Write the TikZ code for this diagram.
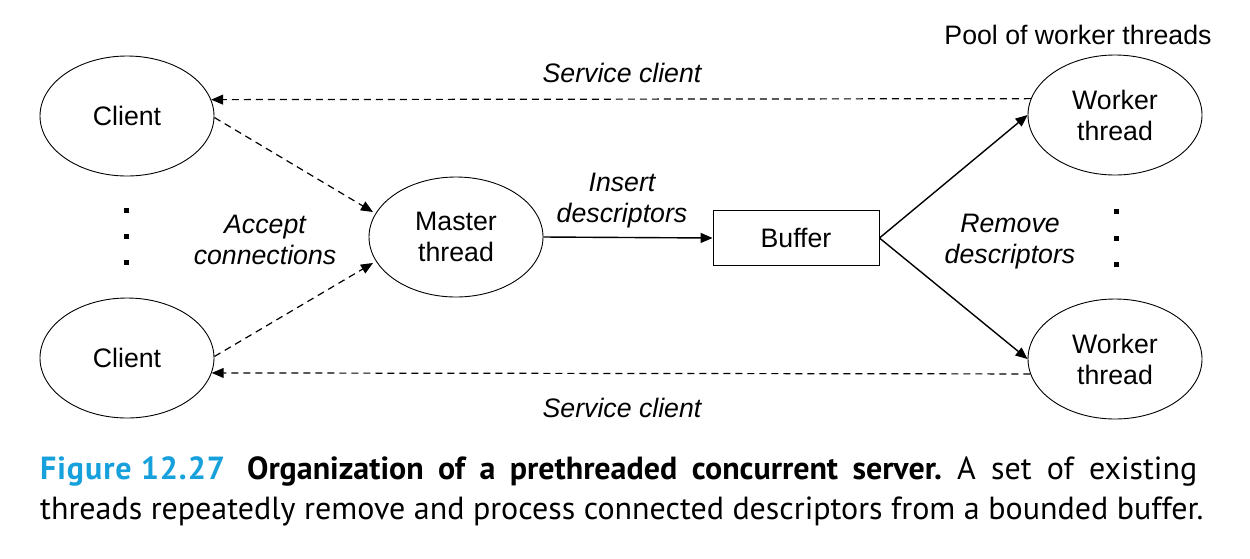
\documentclass[tikz,border=0pt]{standalone}
\usepackage{fontspec}
\setmainfont{Liberation Sans}
\newfontfamily\capfont{PT Sans}
\usetikzlibrary{shapes.geometric,arrows.meta}
\definecolor{figblue}{RGB}{22,160,220}
\tikzset{
  lab/.style={font=\fontsize{26.7pt}{31pt}\selectfont, align=center, inner sep=0pt},
  ilab/.style={lab, font=\fontsize{26.7pt}{31pt}\selectfont\itshape},
  ell/.style={ellipse, draw, line width=0.9pt, minimum width=174pt, minimum height=120pt, inner sep=0pt, lab},
  bufbox/.style={rectangle, draw, line width=0.9pt, minimum width=166pt, minimum height=55pt, inner sep=0pt, lab},
  solidarrow/.style={line width=1.4pt, -{Triangle[length=12pt,width=10pt]}},
  dasharrow/.style={line width=1.2pt, dash pattern=on 7pt off 5pt, -{Triangle[length=12pt,width=10pt]}},
  dotsq/.style={rectangle, fill=black, minimum size=5pt, inner sep=0pt},
  captext/.style={anchor=base west, inner sep=0pt, font=\capfont\fontsize{32pt}{40pt}\selectfont}
}
\begin{document}
\begin{tikzpicture}[x=1pt,y=-1pt]
\useasboundingbox (0,0) rectangle (1250,558);
\node[ell] (c1) at (127,116) {Client};
\node[ell] (c2) at (127,358) {Client};
\node[ell] (m) at (456,237) {Master\\thread};
\node[bufbox] (b) at (796,238) {Buffer};
\node[ell] (w1) at (1115,115) {Worker\\thread};
\node[ell] (w2) at (1115,359) {Worker\\thread};
\coordinate (t1) at (373,212);
\coordinate (t2) at (373,263);
% dots
\node[dotsq] (dl1) at (126,210) {};
\node[dotsq] (dl2) at (126,236) {};
\node[dotsq] (dl3) at (126,262) {};
\node[dotsq] (dr1) at (1116,211) {};
\node[dotsq] (dr2) at (1116,238) {};
\node[dotsq] (dr3) at (1116,264) {};
% labels
\node[lab] (pool) at (1078,35) {Pool of worker threads};
\node[ilab] (sc1) at (622,73) {Service client};
\node[ilab] (sc2) at (622,408) {Service client};
\node[ilab] (acc) at (265,239.5) {Accept\\connections};
\node[ilab] (ins) at (622,201) {Insert\\descriptors};
\node[ilab] (rem) at (1010,241.5) {Remove\\descriptors};
% connectors
\draw[dasharrow] (w1.169) -- (c1.11.5);
\draw[dasharrow] (w2.-170) -- (c2.-10.73);
\draw[dasharrow] (c1.-1) -- (t1);
\draw[dasharrow] (c2.1) -- (t2);
\draw[solidarrow] (m.east) -- (b.west);
\draw[solidarrow] (b.east) -- (w1.west);
\draw[solidarrow] (b.east) -- (w2.west);
% caption
\node[captext] (cap1) at (40,479)
  {\frenchspacing\makebox[1157pt][s]{\mbox{\color{figblue}\bfseries\addfontfeatures{LetterSpace=3}Figure 12.27}\hspace{22pt}\textbf{Organization of a prethreaded concurrent server.} A set of existing}};
\node[captext] (cap2) at (40,519)
  {threads repeatedly remove and process connected descriptors from a bounded buffer.};
\end{tikzpicture}
\end{document}
